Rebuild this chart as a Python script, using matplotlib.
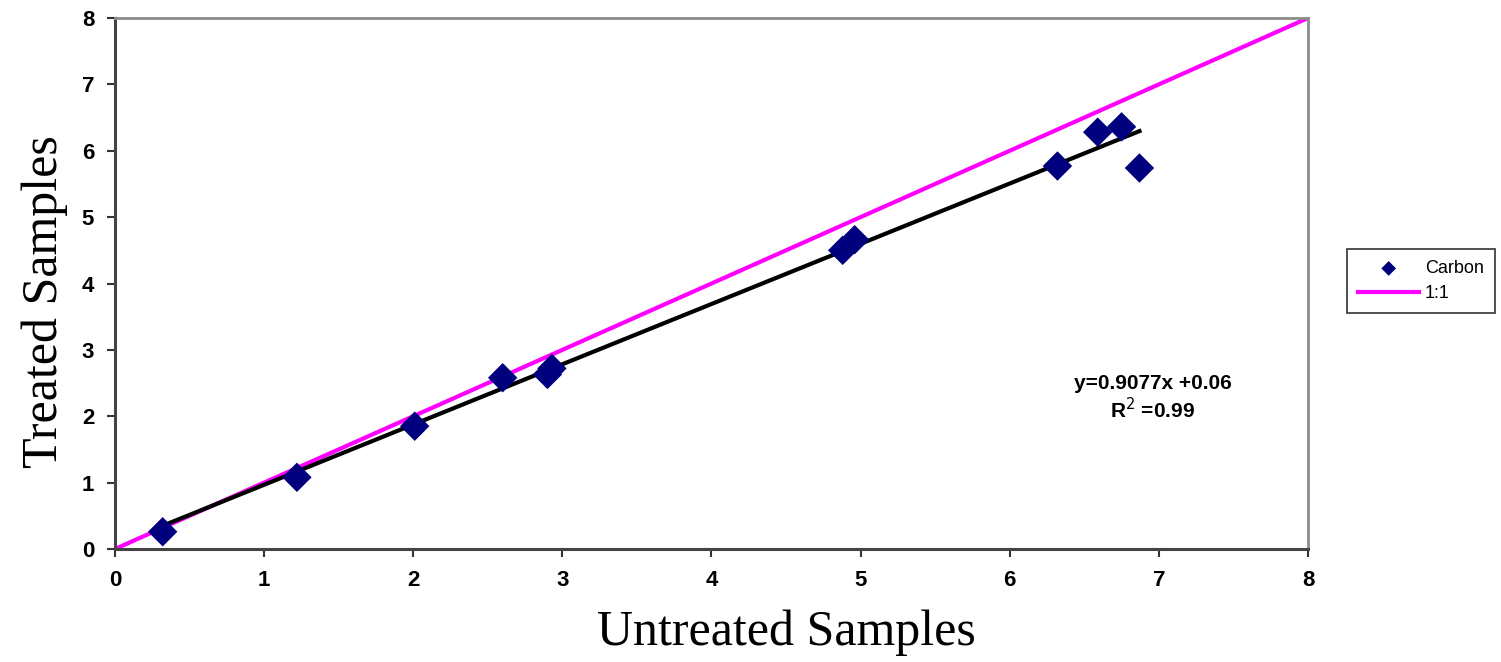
"""Treated vs untreated carbon scatter with 1:1 line and linear fit."""

import matplotlib
matplotlib.use("Agg")
import matplotlib.pyplot as plt
import numpy as np

# Carbon measurements
untreated = [0.32, 1.22, 2.01, 2.60, 2.90, 2.93, 4.88, 4.96, 6.32, 6.59, 6.75, 6.87]
treated = [0.26, 1.08, 1.85, 2.58, 2.63, 2.72, 4.50, 4.66, 5.77, 6.28, 6.36, 5.74]

# Linear fit reported on the chart
slope = 0.9077
intercept = 0.06
r_squared = 0.99

ticks = [0, 1, 2, 3, 4, 5, 6, 7, 8]

navy = "#00007f"
magenta = "#ff00ff"

fig = plt.figure(figsize=(15.01, 6.62), dpi=100)
ax = fig.add_axes([0.0766, 0.1707, 0.8714 - 0.0766, 0.9728 - 0.1707])

ax.plot([0, 8], [0, 8], color=magenta, linewidth=3, label="1:1", zorder=2)

fit_x = np.array([min(untreated), max(untreated)])
ax.plot(fit_x, slope * fit_x + intercept, color="black", linewidth=3, zorder=3)

ax.scatter(untreated, treated, marker="D", s=15 ** 2, color=navy,
           edgecolors="none", label="Carbon", zorder=4)

ax.set_xlim(0, 8)
ax.set_ylim(0, 8)
ax.set_xticks(ticks)
ax.set_yticks(ticks)
ax.tick_params(direction="out", length=6, width=1.5, color="#333333",
               labelsize=16, pad=9)
for lbl in ax.get_xticklabels() + ax.get_yticklabels():
    lbl.set_fontfamily("Liberation Sans")
    lbl.set_fontweight("bold")

for side in ["left", "bottom"]:
    ax.spines[side].set_color("#444444")
    ax.spines[side].set_linewidth(2.2)
for side in ["top", "right"]:
    ax.spines[side].set_color("#8c8c8c")
    ax.spines[side].set_linewidth(2.0)

fig.text(0.524, 0.044, "Untreated Samples", ha="center", va="center",
         fontsize=36, family="Liberation Serif")
fig.text(0.030, 0.545, "Treated Samples", ha="center", va="center",
         rotation=90, fontsize=36, family="Liberation Serif")

ax.text(6.96, 2.27, f"y={slope}x +{intercept:.2f}\nR$^2$ ={r_squared}",
        ha="center", va="center", fontsize=15, fontweight="bold",
        family="Liberation Sans", linespacing=1.2)

handles, labels = ax.get_legend_handles_labels()
leg = fig.legend(handles[::-1], labels[::-1], loc="upper left",
                 bbox_to_anchor=(0.8915, 0.637), frameon=True, fancybox=False,
                 prop={"family": "Liberation Sans", "size": 13},
                 handlelength=3.4, handletextpad=0.3, markerscale=0.5,
                 borderpad=0.6, labelspacing=0.45)
leg.get_frame().set_edgecolor("black")
leg.get_frame().set_linewidth(1.2)

fig.savefig("out.png", dpi=100)
